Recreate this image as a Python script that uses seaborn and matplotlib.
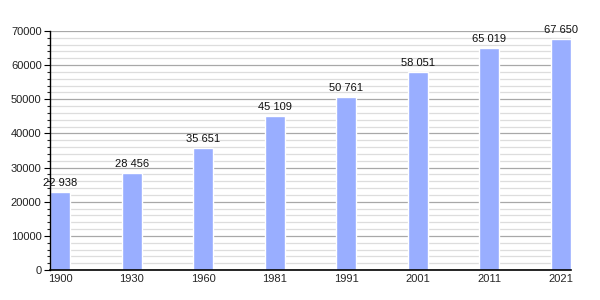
import matplotlib
matplotlib.use("Agg")
import matplotlib.pyplot as plt
import seaborn as sns
import pandas as pd
from matplotlib.ticker import MultipleLocator

years = ["1900", "1930", "1960", "1981", "1991", "2001", "2011", "2021"]
population = [22938, 28456, 35651, 45109, 50761, 58051, 65019, 67650]
labels = ["22 938", "28 456", "35 651", "45 109", "50 761", "58 051", "65 019", "67 650"]

sns.set_style("white")
plt.rcParams['font.family'] = ['Liberation Sans', 'DejaVu Sans']

df = pd.DataFrame({"year": years, "pop": population})

fig = plt.figure(figsize=(6, 3), dpi=100)
ax = fig.add_axes([50/600, 30/300, 521/600, 239/300])

sns.barplot(data=df, x="year", y="pop", color="#99aeff", saturation=1, width=0.28, ax=ax)

ax.set_xlim(-0.14, 7.14)
ax.set_ylim(0, 70000)
ax.yaxis.set_major_locator(MultipleLocator(10000))
ax.yaxis.set_minor_locator(MultipleLocator(2000))
ax.grid(which="major", axis="y", color="#a8a8a8", linewidth=0.9)
ax.grid(which="minor", axis="y", color="#dddddd", linewidth=0.9)
ax.set_axisbelow(True)

for s in ["top", "right"]:
    ax.spines[s].set_visible(False)
ax.spines["left"].set_color("black")
ax.spines["bottom"].set_color("black")
ax.spines["left"].set_linewidth(1.0)
ax.spines["bottom"].set_linewidth(1.2)

ax.tick_params(axis="y", which="major", direction="out", length=4, width=0.8, left=True, labelsize=8, pad=2, colors="black")
ax.tick_params(axis="y", which="minor", direction="out", length=2, width=0.8, left=True)
ax.tick_params(axis="x", which="major", length=0, labelsize=8, pad=3)
for t in ax.get_yticklabels():
    t.set_color("#222222")

ax.set_xlabel("")
ax.set_ylabel("")

for i, (v, lab) in enumerate(zip(population, labels)):
    ax.annotate(lab, (i, v), xytext=(0, 3), textcoords="offset points",
                ha="center", va="bottom", fontsize=8, color="#111111")

fig.savefig("out.png", dpi=100)
